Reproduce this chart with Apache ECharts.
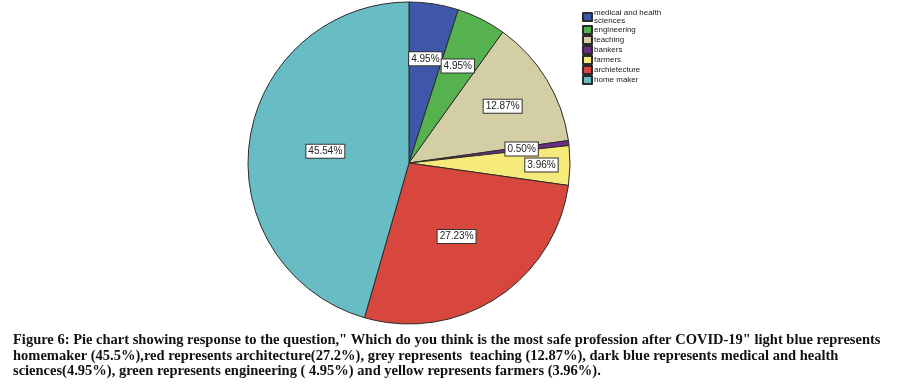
<!DOCTYPE html>
<html>
<head>
<meta charset="utf-8">
<script src="https://cdn.jsdelivr.net/npm/echarts@6/dist/echarts.min.js"></script>
<style>
  html, body { margin: 0; padding: 0; background: #fff; }
  #pie { width: 908px; height: 388px; }
</style>
</head>
<body>
<div id="pie"></div>
<script>
var categories = ['medical and health sciences', 'engineering', 'teaching', 'bankers', 'farmers', 'archietecture', 'home maker'];
var percents = [4.95, 4.95, 12.87, 0.50, 3.96, 27.23, 45.54];
var colors = ['#3f57a8', '#55b24f', '#d3cea3', '#6b2d84', '#f6eb7a', '#d8473e', '#68bdc4'];
// how far each label sits outside the default inside spot (SPSS pushes small slices out)
var labelPush = [22, 25, 26, 30, 49, 4, 1];
var captionLines = [
    'Figure 6: Pie chart showing response to the question," Which do you think is the most safe profession after COVID-19" light blue represents',
    'homemaker (45.5%),red represents architecture(27.2%), grey represents  teaching (12.87%), dark blue represents medical and health',
    'sciences(4.95%), green represents engineering ( 4.95%) and yellow represents farmers (3.96%).'
];

var pieCenter = [409, 163];

function get_option(){
    var items = categories.map(function (name, i) {
        return { name: name, value: percents[i], itemStyle: { color: colors[i] } };
    });
    var captions = captionLines.map(function (line, i) {
        return {
            type: 'text',
            left: 13,
            top: 333 + i * 15.5,
            style: {
                text: line,
                fontFamily: 'Liberation Serif',
                fontWeight: 'bold',
                fontSize: 14.5,
                fill: '#111'
            }
        };
    });
    var option = {
        animation: false,
        color: colors,
        legend: {
            orient: 'vertical',
            left: 582,
            top: 9,
            padding: 0,
            itemWidth: 9,
            itemHeight: 8,
            itemGap: 0,
            icon: 'rect',
            selectedMode: false,
            data: categories,
            formatter: function (name) {
                return name === 'medical and health sciences' ? 'medical and health\nsciences' : name;
            },
            textStyle: {
                fontFamily: 'Liberation Sans',
                fontSize: 8,
                lineHeight: 8,
                color: '#222',
                padding: [0, 0, 0, -3]
            }
        },
        graphic: captions,
        series: [{
            type: 'pie',
            center: pieCenter,
            radius: 161,
            startAngle: 90,
            clockwise: true,
            avoidLabelOverlap: false,
            emphasis: { disabled: true },
            itemStyle: { borderColor: '#2b2b2b', borderWidth: 1 },
            label: {
                show: true,
                position: 'inside',
                formatter: function (p) { return p.value.toFixed(2) + '%'; },
                fontFamily: 'Liberation Sans',
                fontSize: 10,
                color: '#222',
                backgroundColor: '#fff',
                borderColor: '#333',
                borderWidth: 1,
                padding: [2, 2, 1, 2]
            },
            labelLine: { show: false },
            labelLayout: function (params) {
                var r = params.labelRect;
                var lx = r.x + r.width / 2 - pieCenter[0];
                var ly = r.y + r.height / 2 - pieCenter[1];
                var len = Math.sqrt(lx * lx + ly * ly) || 1;
                var push = labelPush[params.dataIndex];
                return { dx: lx / len * push, dy: ly / len * push };
            },
            data: items
        }]
    };
    return option;
}

var myChart = echarts.init(document.getElementById('pie'));
myChart.setOption(get_option());
</script>
</body>
</html>
